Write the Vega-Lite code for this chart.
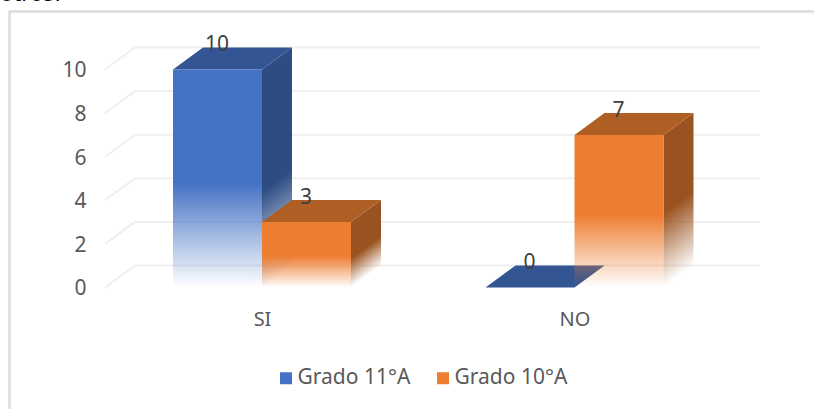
{
"$schema":"https://vega.github.io/schema/vega-lite/v6.json",
"width":806,"height":400,
"autosize":"none",
"padding":{"left":9.5,"top":11.5,"right":0,"bottom":0},
"background":"white",
"view":{"stroke":"#DDDDDD","strokeWidth":2.5},
"config":{"text":{"font":"Noto Sans"},"axis":{"labelFont":"Noto Sans"},"legend":{"labelFont":"Noto Sans"}},
"title":{"text":"otros?","anchor":"start","frame":"group","dx":-9.5,"offset":6,"fontSize":22,"fontWeight":"normal","color":"#000000","font":"Noto Sans"},
"data":{"values":[
{"respuesta":"SI","grado":"Grado 11°A","valor":10},
{"respuesta":"SI","grado":"Grado 10°A","valor":3},
{"respuesta":"NO","grado":"Grado 11°A","valor":0},
{"respuesta":"NO","grado":"Grado 10°A","valor":7}
]},
"transform":[
{"calculate":"(datum.respuesta==='SI'?163.5:476)+(datum.grado==='Grado 11°A'?0:89)","as":"x0"},
{"calculate":"datum.x0+89","as":"x1"},
{"calculate":"datum.respuesta+datum.grado","as":"id"}
],
"encoding":{
"x":{"field":"x","type":"quantitative","scale":{"domain":[0,806],"nice":false,"zero":false},
 "axis":{"values":[252.5,565],"labelExpr":"datum.value<400?'SI':'NO'","title":null,"domain":false,"ticks":false,"grid":false,"labelFontSize":20,"labelColor":"#595959","labelPadding":0,"offset":-102.5,"labelAngle":0}},
"y":{"field":"y","type":"quantitative","scale":{"domain":[-5.688,12.66],"nice":false,"zero":false},
 "axis":{"values":[0,2,4,6,8,10],"format":"d","title":null,"domain":false,"ticks":false,"grid":false,"labelFontSize":21,"labelColor":"#595959","labelPadding":0,"offset":-76.5,"labelOffset":1.5}}
},
"layer":[
{"data":{"values":[{"v":0},{"v":2},{"v":4},{"v":6},{"v":8},{"v":10}]},
 "transform":[{"calculate":"datum.v","as":"y"},{"calculate":"datum.v+1.009","as":"y2"},{"calculate":"95.5","as":"x"},{"calculate":"125.5","as":"x2"}],
 "mark":{"type":"rule","color":"#EFEFEF","strokeWidth":2},
 "encoding":{"x2":{"field":"x2"},"y2":{"field":"y2"}}},
{"data":{"values":[{"v":0},{"v":2},{"v":4},{"v":6},{"v":8},{"v":10}]},
 "transform":[{"calculate":"datum.v+1.009","as":"y"},{"calculate":"125.5","as":"x"},{"calculate":"750.5","as":"x2"}],
 "mark":{"type":"rule","color":"#EFEFEF","strokeWidth":2},
 "encoding":{"x2":{"field":"x2"}}},

{"transform":[{"calculate":"datum.x0","as":"x"},{"calculate":"datum.x1","as":"x2"},{"calculate":"datum.valor","as":"y"},{"calculate":"0","as":"y2"}],
 "mark":{"type":"rect","opacity":0},
 "encoding":{"x2":{"field":"x2"},"y2":{"field":"y2"},
  "color":{"field":"grado","type":"nominal","sort":["Grado 11°A","Grado 10°A"],
   "scale":{"domain":["Grado 11°A","Grado 10°A"],"range":["#4472C4","#ED7D31"]},
   "legend":{"orient":"none","legendX":266,"legendY":356,"direction":"horizontal","columns":2,"title":null,"symbolType":"square","symbolSize":144,"symbolStrokeWidth":0,"symbolOpacity":1,"labelFontSize":21,"labelColor":"#595959","labelOffset":1,"columnPadding":22,"padding":0,
    "encode":{"symbols":{"update":{"fill":{"signal":"{gradient:'linear',x1:0,y1:0,x2:0,y2:1,stops:[{offset:0,color:datum.value==='Grado 11°A'?'#4472C4':'#ED7D31'},{offset:0.65,color:datum.value==='Grado 11°A'?'#4472C4':'#ED7D31'},{offset:1,color:'#FFFFFF'}]}"}},"fill":{"value":{"expr":"{gradient:'linear',x1:0,y1:0,x2:0,y2:1,stops:[{offset:0,color:datum.value==='Grado 11°A'?'#4472C4':'#ED7D31'},{offset:0.65,color:datum.value==='Grado 11°A'?'#4472C4':'#ED7D31'},{offset:1,color:'#FFFFFF'}]}"}}}}}}}},

{"transform":[{"filter":"datum.grado==='Grado 11°A' && datum.valor>0"},{"calculate":"[0,1]","as":"d"},{"flatten":["d"]},
  {"calculate":"datum.x1+30*datum.d","as":"x"},{"calculate":"datum.valor+1.009*datum.d","as":"y"},{"calculate":"1.009*datum.d","as":"y2"}],
 "mark":{"type":"area","color":{"gradient":"linear","x1":0,"y1":0,"x2":0.091,"y2":0.992,"stops":[{"offset":0,"color":"rgba(44,76,130,1)"},{"offset":0.6,"color":"rgba(44,76,130,1)"},{"offset":1,"color":"rgba(44,76,130,0)"}]}},
 "encoding":{"y2":{"field":"y2"},"detail":{"field":"id"}}},
{"transform":[{"filter":"datum.grado==='Grado 11°A'"},{"calculate":"[0,1]","as":"d"},{"flatten":["d"]},
  {"calculate":"datum.x0+30*datum.d","as":"x"},{"calculate":"datum.x1+30*datum.d","as":"x2"},{"calculate":"datum.valor+1.009*datum.d","as":"y"}],
 "mark":{"type":"area","orient":"horizontal","color":"#335593"},
 "encoding":{"x2":{"field":"x2"},"detail":{"field":"id"}}},
{"transform":[{"filter":"datum.grado==='Grado 11°A'"},{"calculate":"datum.x0","as":"x"},{"calculate":"datum.x1","as":"x2"},{"calculate":"datum.valor","as":"y"},{"calculate":"0","as":"y2"}],
 "mark":{"type":"rect","color":{"gradient":"linear","x1":0,"y1":0,"x2":0,"y2":1,"stops":[{"offset":0,"color":"rgba(68,114,196,1)"},{"offset":0.52,"color":"rgba(68,114,196,1)"},{"offset":1,"color":"rgba(68,114,196,0)"}]}},
 "encoding":{"x2":{"field":"x2"},"y2":{"field":"y2"}}},

{"transform":[{"filter":"datum.grado==='Grado 10°A' && datum.valor===7"},{"calculate":"[0,1]","as":"d"},{"flatten":["d"]},
  {"calculate":"datum.x1+30*datum.d","as":"x"},{"calculate":"datum.valor+1.009*datum.d","as":"y"},{"calculate":"1.009*datum.d","as":"y2"}],
 "mark":{"type":"area","color":{"gradient":"linear","x1":0,"y1":0,"x2":0.124,"y2":0.984,"stops":[{"offset":0,"color":"rgba(154,83,32,1)"},{"offset":0.575,"color":"rgba(154,83,32,1)"},{"offset":1,"color":"rgba(154,83,32,0)"}]}},
 "encoding":{"y2":{"field":"y2"},"detail":{"field":"id"}}},
{"transform":[{"filter":"datum.grado==='Grado 10°A' && datum.valor===3"},{"calculate":"[0,1]","as":"d"},{"flatten":["d"]},
  {"calculate":"datum.x1+30*datum.d","as":"x"},{"calculate":"datum.valor+1.009*datum.d","as":"y"},{"calculate":"1.009*datum.d","as":"y2"}],
 "mark":{"type":"area","color":{"gradient":"linear","x1":0,"y1":0,"x2":0.238,"y2":0.94,"stops":[{"offset":0,"color":"rgba(154,83,32,1)"},{"offset":0.667,"color":"rgba(154,83,32,1)"},{"offset":1,"color":"rgba(154,83,32,0)"}]}},
 "encoding":{"y2":{"field":"y2"},"detail":{"field":"id"}}},
{"transform":[{"filter":"datum.grado==='Grado 10°A'"},{"calculate":"[0,1]","as":"d"},{"flatten":["d"]},
  {"calculate":"datum.x0+30*datum.d","as":"x"},{"calculate":"datum.x1+30*datum.d","as":"x2"},{"calculate":"datum.valor+1.009*datum.d","as":"y"}],
 "mark":{"type":"area","orient":"horizontal","color":"#B05F24"},
 "encoding":{"x2":{"field":"x2"},"detail":{"field":"id"}}},
{"transform":[{"filter":"datum.grado==='Grado 10°A'"},{"calculate":"datum.x0","as":"x"},{"calculate":"datum.x1","as":"x2"},{"calculate":"datum.valor","as":"y"},{"calculate":"0","as":"y2"}],
 "mark":{"type":"rect","color":{"gradient":"linear","x1":0,"y1":0,"x2":0,"y2":1,"stops":[{"offset":0,"color":"rgba(237,125,49,1)"},{"offset":0.52,"color":"rgba(237,125,49,1)"},{"offset":1,"color":"rgba(237,125,49,0)"}]}},
 "encoding":{"x2":{"field":"x2"},"y2":{"field":"y2"}}},

{"transform":[{"calculate":"datum.x0+44","as":"x"},{"calculate":"datum.valor","as":"y"}],
 "mark":{"type":"text","dy":-24,"fontSize":21,"color":"#404040","font":"Noto Sans","align":"center","baseline":"middle"},
 "encoding":{"text":{"field":"valor","type":"quantitative"}}}
]
}
